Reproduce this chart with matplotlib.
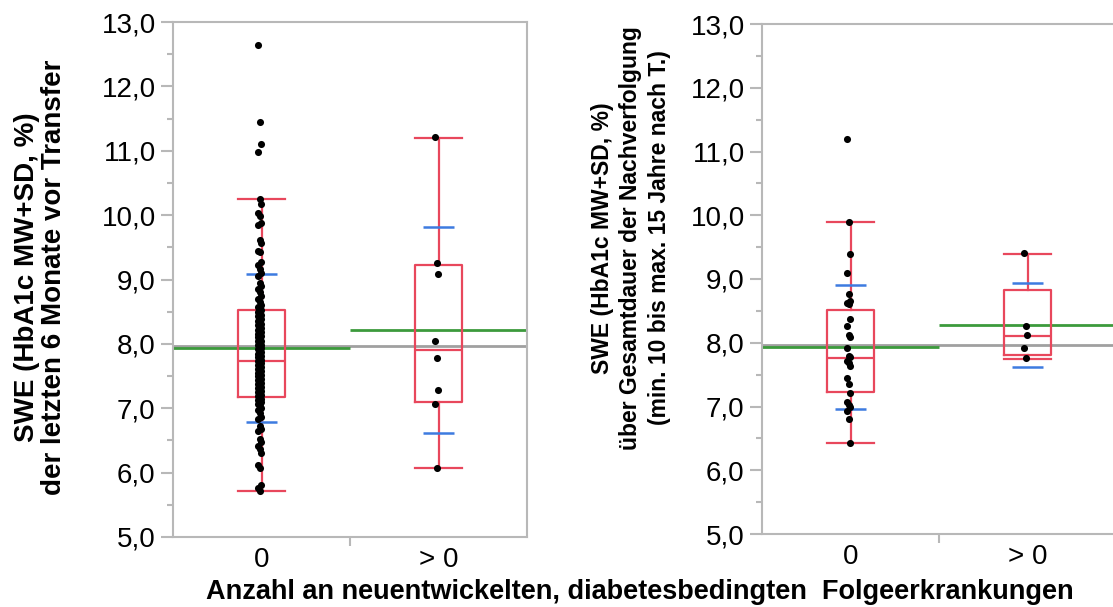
import matplotlib
matplotlib.use("Agg")
import matplotlib.pyplot as plt
from matplotlib.ticker import FixedLocator, MultipleLocator, FuncFormatter

plt.rcParams["font.family"] = ["Liberation Sans", "DejaVu Sans"]

# groups on the x axis
groups = ["0", "> 0"]

# HbA1c, last 6 months before transfer
pre_values_0 = [
    12.64, 11.44, 11.10, 10.98,
    10.25, 10.18, 10.03, 9.98, 9.87, 9.84, 9.61, 9.57, 9.45, 9.43,
    9.27, 9.22, 9.17, 9.10, 9.06, 8.95, 8.90, 8.85, 8.80, 8.75,
    8.70, 8.65, 8.60, 8.57, 8.55, 8.52, 8.50, 8.48, 8.45, 8.43,
    8.41, 8.38, 8.35, 8.33, 8.31, 8.30, 8.27, 8.24, 8.22, 8.20,
    8.18, 8.15, 8.13, 8.12, 8.10, 8.07, 8.05, 8.04, 8.01, 7.99,
    7.98, 7.95, 7.93, 7.92, 7.90, 7.87, 7.85, 7.84, 7.81, 7.79,
    7.78, 7.75, 7.73, 7.72, 7.70, 7.67, 7.65, 7.64, 7.61, 7.59,
    7.58, 7.55, 7.53, 7.52, 7.50, 7.47, 7.45, 7.44, 7.41, 7.39,
    7.38, 7.35, 7.33, 7.32, 7.30, 7.27, 7.25, 7.24, 7.21, 7.19,
    7.18, 7.15, 7.13, 7.12, 7.09, 7.06, 7.03, 7.00, 6.97, 6.92,
    6.87, 6.83, 6.72, 6.68, 6.64, 6.53, 6.47, 6.42, 6.36, 6.30,
    6.12, 6.07, 5.81, 5.76, 5.72,
]
pre_values_1 = [11.21, 9.26, 9.09, 8.04, 7.78, 7.29, 7.06, 6.07]

# HbA1c over the whole follow-up
fu_values_0 = [
    11.19, 9.90, 9.40, 9.09, 8.76, 8.65, 8.63, 8.61, 8.37, 8.27,
    8.12, 8.09, 7.92, 7.80, 7.77, 7.72, 7.68, 7.64, 7.44, 7.36,
    7.21, 7.07, 7.02, 6.99, 6.93, 6.81, 6.43,
]
fu_values_1 = [9.41, 8.27, 8.12, 7.91, 7.76]

# box statistics per group: q1, median, q3, whisker low, whisker high
pre_q1 = [7.17, 7.10]
pre_med = [7.74, 7.91]
pre_q3 = [8.52, 9.23]
pre_whislo = [5.72, 6.07]
pre_whishi = [10.25, 11.20]
pre_mean = [7.94, 8.22]
pre_sd = [1.15, 1.60]
pre_overall_mean = 7.96

fu_q1 = [7.23, 7.81]
fu_med = [7.76, 8.10]
fu_q3 = [8.51, 8.83]
fu_whislo = [6.43, 7.75]
fu_whishi = [9.90, 9.40]
fu_mean = [7.93, 8.28]
fu_sd = [0.975, 0.655]
fu_overall_mean = 7.96

RED = "#e8475c"
BLUE = "#3d7be0"
GREEN = "#3c9a3c"
GREY = "#a0a0a0"
SPINE = "#b8b8b8"
FS = 20


def draw_panel(ax, values, q1, med, q3, wlo, whi, mean, sd, overall):
    ax.set_xlim(-0.5, 1.5)
    ax.set_ylim(5, 13)

    ax.axhline(overall, color=GREY, lw=2, zorder=1)
    for i, m in enumerate(mean):
        ax.hlines(m, i - 0.5, i + 0.5, color=GREEN, lw=2, zorder=2)

    stats = [
        dict(q1=q1[i], med=med[i], q3=q3[i], whislo=wlo[i], whishi=whi[i], fliers=[])
        for i in range(len(groups))
    ]
    line = dict(color=RED, lw=1.6)
    ax.bxp(stats, positions=range(len(groups)), widths=0.26, capwidths=0.26,
           showfliers=False, boxprops=line, whiskerprops=line, capprops=line,
           medianprops=line, zorder=3, manage_ticks=False)

    for i, (m, s) in enumerate(zip(mean, sd)):
        ax.hlines([m + s, m - s], i - 0.09, i + 0.09, color=BLUE, lw=1.8, zorder=4)

    # small side-by-side spread so overlapping dots stay visible
    spread = [-0.012, 0.0, 0.008]
    for i, vals in enumerate(values):
        xs = [i - 0.01 + spread[k % 3] for k in range(len(vals))]
        ax.scatter(xs, vals, s=26, color="black", linewidths=0, zorder=5)

    for sp in ax.spines.values():
        sp.set_color(SPINE)
        sp.set_linewidth(1.5)

    ax.yaxis.set_major_locator(MultipleLocator(1))
    ax.yaxis.set_minor_locator(MultipleLocator(0.5))
    ax.yaxis.set_major_formatter(FuncFormatter(lambda v, p: f"{v:.1f}".replace(".", ",")))
    ax.tick_params(axis="y", which="major", length=8.5, width=1.5, color=SPINE,
                   labelsize=FS, pad=4)
    ax.tick_params(axis="y", which="minor", length=4, width=1.5, color=SPINE)

    ax.xaxis.set_major_locator(FixedLocator(range(len(groups))))
    ax.set_xticklabels(groups)
    ax.xaxis.set_minor_locator(FixedLocator([0.5]))
    ax.tick_params(axis="x", which="major", length=0, labelsize=FS, pad=7)
    ax.tick_params(axis="x", which="minor", length=6.5, width=1.5, color=SPINE)


fig = plt.figure(figsize=(11.13, 6.07), dpi=100)
W, H = 1113, 607

ax1 = fig.add_axes([173 / W, 1 - 537 / H, 354 / W, (537 - 22) / H])
draw_panel(ax1, [pre_values_0, pre_values_1], pre_q1, pre_med, pre_q3,
           pre_whislo, pre_whishi, pre_mean, pre_sd, pre_overall_mean)

ax2 = fig.add_axes([762 / W, 1 - 534 / H, 354 / W, (534 - 24) / H])
draw_panel(ax2, [fu_values_0, fu_values_1], fu_q1, fu_med, fu_q3,
           fu_whislo, fu_whishi, fu_mean, fu_sd, fu_overall_mean)

fig.text(41 / W, 1 - 277 / H,
         "SWE (HbA1c MW+SD, %)\nder letzten 6 Monate vor Transfer",
         rotation=90, ha="center", va="center", ma="center",
         fontsize=FS, fontweight="bold", linespacing=1.05)
fig.text(631 / W, 1 - 238 / H,
         "SWE (HbA1c MW+SD, %)\nüber Gesamtdauer der Nachverfolgung\n"
         "(min. 10 bis max. 15 Jahre nach T.)",
         rotation=90, ha="center", va="center", ma="center",
         fontsize=16.5, fontweight="bold", linespacing=1.3)
fig.text(640 / W, 1 - 592 / H,
         "Anzahl an neuentwickelten, diabetesbedingten  Folgeerkrankungen",
         ha="center", va="center", fontsize=19.5, fontweight="bold")

fig.savefig("out.png", dpi=100)
